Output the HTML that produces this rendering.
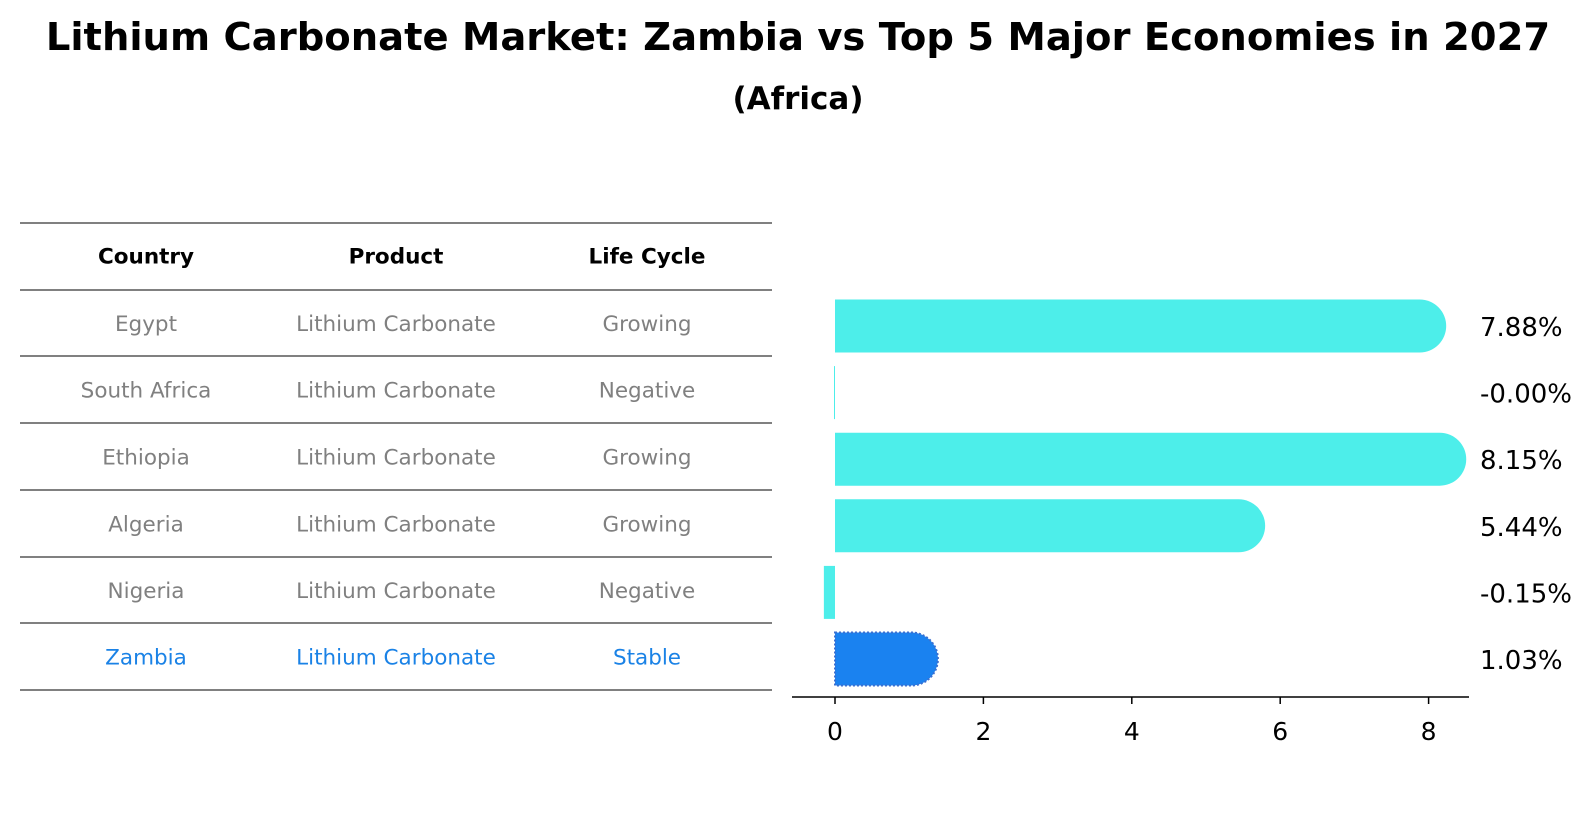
<!DOCTYPE html>
<html><head><meta charset="utf-8"><style>
body{margin:0;background:#fff;font-family:"Liberation Sans","DejaVu Sans",sans-serif}
#wrap{position:relative;width:1596px;height:823px;overflow:hidden}
.t{position:absolute;left:0;width:1596px;text-align:center;font-weight:bold;color:#000;line-height:1}
</style></head><body>
<div id="wrap">
<div class="t" style="top:19px;font-size:38.5px;font-family:'DejaVu Sans',sans-serif">Lithium Carbonate Market: Zambia vs Top 5 Major Economies in 2027</div>
<div class="t" style="top:84px;font-size:31px;font-family:'DejaVu Sans',sans-serif">(Africa)</div>
<svg id="svg" width="1596" height="823" style="position:absolute;left:0;top:0"></svg>
</div>
<script>
const countries=["Egypt","South Africa","Ethiopia","Algeria","Nigeria","Zambia"];
const products=["Lithium Carbonate","Lithium Carbonate","Lithium Carbonate","Lithium Carbonate","Lithium Carbonate","Lithium Carbonate"];
const lifeCycles=["Growing","Negative","Growing","Growing","Negative","Stable"];
const values=[7.88,-0.00,8.15,5.44,-0.15,1.03];
const valueLabels=["7.88%","-0.00%","8.15%","5.44%","-0.15%","1.03%"];
const xTicks=[0,2,4,6,8];
const NS="http://www.w3.org/2000/svg";
const svg=document.getElementById('svg');
function mk(tag,attrs,parent){const e=document.createElementNS(NS,tag);for(const k in attrs)e.setAttribute(k,attrs[k]);(parent||svg).appendChild(e);return e;}
const x=v=>835+v*74.2;
const yc=i=>326+i*66.6;
const ff="'DejaVu Sans',sans-serif";
const lines=[223,290,356,423,490,557,623,690];
lines.forEach((ly,i)=>{const l=mk('line',{x1:20,x2:772,y1:ly,y2:ly,stroke:'#000','stroke-width':1});

});
const colX=[146,396,647];
["Country","Product","Life Cycle"].forEach((h,j)=>{const t=mk('text',{x:colX[j],y:(lines[0]+lines[1])/2+7,'text-anchor':'middle','font-size':21.5,'font-weight':'bold','font-family':ff,fill:'#000'});t.textContent=h;

});
countries.forEach((c,i)=>{const row=[c,products[i],lifeCycles[i]];const col=i===countries.length-1?'#1a82e6':'#808080';
row.forEach((s,j)=>{const t=mk('text',{x:colX[j],y:(lines[i+1]+lines[i+2])/2+8,'text-anchor':'middle','font-size':21.5,'font-family':ff,fill:col});t.textContent=s;

});});
const bh=53,r=26.5;
values.forEach((v,i)=>{const isZ=i===values.length-1;const fill=isZ?'#1a82f0':'#4deeea';const y0=yc(i)-bh/2;let el;
if(v>0){const x0=x(0),x1=x(v);
el=mk('path',{d:`M${x0},${y0}H${x1}A${r},${r} 0 0 1 ${x1},${y0+bh}H${x0}Z`,fill:fill});
if(isZ){el.setAttribute('stroke','#3a6fd0');el.setAttribute('stroke-width',2);el.setAttribute('stroke-dasharray','2,2');}}
else{const w=Math.max(x(0)-x(v),1);
el=mk('rect',{x:x(0)-w,y:y0,width:w,height:bh,fill:fill});}


const t=mk('text',{x:1480,y:yc(i)+10,'font-size':26,'font-family':ff,fill:'#000'});t.textContent=valueLabels[i];

});
const ax=mk('line',{x1:792,x2:1469,y1:697,y2:697,stroke:'#000','stroke-width':1.5});


xTicks.forEach(tv=>{const tk=mk('line',{x1:x(tv),x2:x(tv),y1:697,y2:704,stroke:'#000','stroke-width':1.5});


const t=mk('text',{x:x(tv),y:740,'text-anchor':'middle','font-size':25,'font-family':ff,fill:'#000'});t.textContent=tv;

});
</script>
</body></html>
